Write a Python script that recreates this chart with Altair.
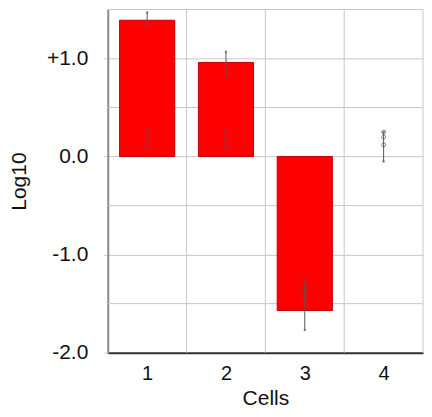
import altair as alt
import pandas as pd

# ---- data ----
bar_cells = [1, 2, 3]
bar_means = [1.39, 0.96, -1.57]

err_cells = [1, 2, 3, 4]
err_low = [1.32, 0.85, -1.77, -0.05]
err_high = [1.47, 1.07, -1.30, 0.25]

pt_cells = [1, 1, 1, 2, 2, 2, 3, 3, 3, 4, 4, 4]
pt_vals = [0.25, 0.18, 0.10, 0.25, 0.18, 0.10, -1.26, -1.35, -1.43, 0.25, 0.20, 0.12]

boundaries = [1.5, 2.5, 3.5, 4.5]
half_lines = [-1.5, -0.5, 0.5, 1.5]
y_ticks = [-2.0, -1.0, 0.0, 1.0]
x_ticks = [1, 2, 3, 4]

FONT = "Liberation Sans"
GRID = "#c8c8cc"

bars_df = pd.DataFrame({"cell": bar_cells, "mean": bar_means})
err_df = pd.DataFrame({"cell": err_cells, "lo": err_low, "hi": err_high})
ends_df = pd.DataFrame({"cell": err_cells + err_cells, "v": err_low + err_high})
pts_df = pd.DataFrame({"cell": pt_cells, "v": pt_vals})
bnd_df = pd.DataFrame({"b": boundaries})
half_df = pd.DataFrame({"h": half_lines})

xscale = alt.Scale(domain=[0.5, 4.5], nice=False, zero=False)
yscale = alt.Scale(domain=[-2.0, 1.5], nice=False, zero=False)

x_axis = alt.Axis(
    values=x_ticks, format="d", grid=False, ticks=False, title="Cells",
    labelFontSize=20, titleFontSize=21, labelPadding=11, titlePadding=4,
    domainColor="#333333", domainWidth=2, labelColor="#111111", titleColor="#111111",
    titleFontWeight="normal", labelFont=FONT, titleFont=FONT,
)
y_axis = alt.Axis(
    values=y_ticks, grid=True, gridColor=GRID, gridWidth=1, title="Log10",
    labelExpr="datum.value > 0 ? '+' + format(datum.value, '.1f') : (datum.value < 0 ? '-' + format(-datum.value, '.1f') : '0.0')",
    labelFontSize=21, titleFontSize=21, labelPadding=16, titlePadding=17,
    tickSize=4, tickColor="#cccccc", domainColor="#8a8a8a", domainWidth=2,
    labelColor="#111111", titleColor="#111111", titleFontWeight="normal",
    labelFont=FONT, titleFont=FONT,
)

grid_v = alt.Chart(bnd_df).mark_rule(color=GRID, strokeWidth=1).encode(
    x=alt.X("b:Q", scale=xscale, axis=x_axis)
)

grid_h = alt.Chart(half_df).mark_rule(color=GRID, strokeWidth=1).encode(
    y=alt.Y("h:Q", scale=yscale, axis=y_axis)
)

bars = alt.Chart(bars_df).transform_calculate(
    x1="datum.cell - 0.35", x2="datum.cell + 0.35", zero="0"
).mark_bar(color="#ff0000", stroke="#c00000", strokeWidth=1).encode(
    x=alt.X("x1:Q", scale=xscale),
    x2="x2:Q",
    y=alt.Y("mean:Q", scale=yscale),
    y2="zero:Q",
)

errs = alt.Chart(err_df).mark_rule(color="#555555", strokeWidth=1).encode(
    x=alt.X("cell:Q", scale=xscale),
    y=alt.Y("lo:Q", scale=yscale),
    y2="hi:Q",
)

ends = alt.Chart(ends_df).mark_point(filled=True, color="#555555", size=6).encode(
    x=alt.X("cell:Q", scale=xscale),
    y=alt.Y("v:Q", scale=yscale),
)

pts = alt.Chart(pts_df).mark_point(filled=False, color="#555555", size=16, strokeWidth=1).encode(
    x=alt.X("cell:Q", scale=xscale),
    y=alt.Y("v:Q", scale=yscale),
)

chart = alt.layer(grid_v, grid_h, bars, errs, ends, pts).properties(
    width=316, height=344,
    padding={"left": 0, "top": 0, "right": 0, "bottom": 0},
).configure_view(stroke=None)

chart.save("out.html", embed_options={"renderer": "svg", "actions": False})
